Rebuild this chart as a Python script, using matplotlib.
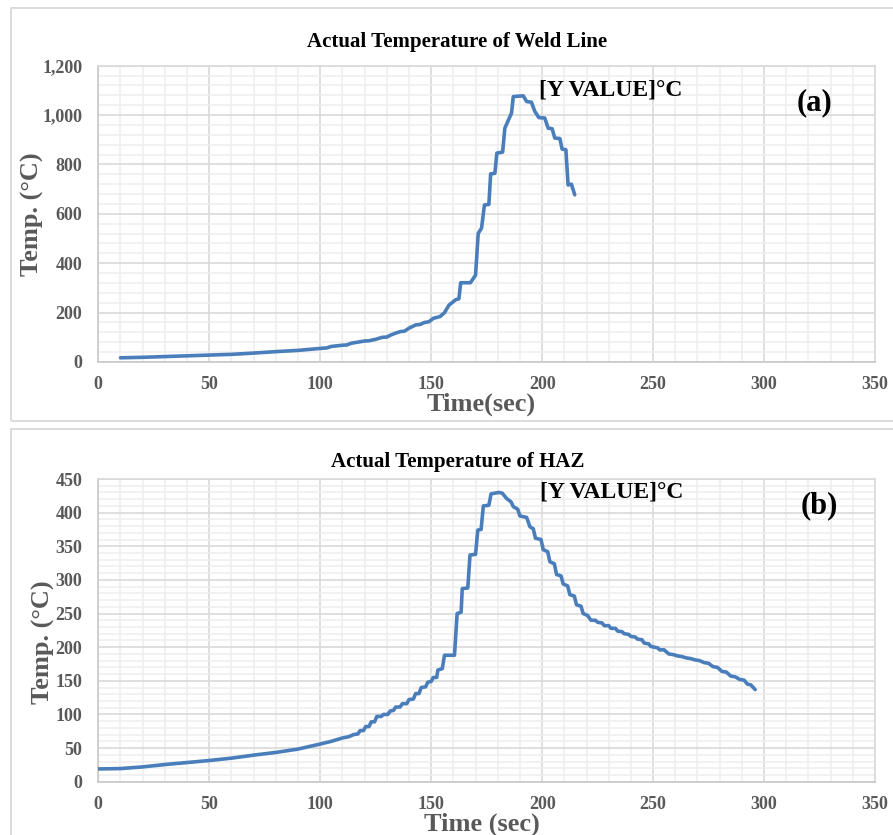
import matplotlib
matplotlib.use("Agg")
import matplotlib.pyplot as plt
from matplotlib.ticker import MultipleLocator, FuncFormatter
from matplotlib.patches import Rectangle

# ---- data ----
weld_time = [10, 20, 30, 40, 50, 60, 68, 80, 90, 100,
             103, 105, 110, 112, 114, 120, 122, 125, 128, 130,
             132, 134, 136, 138, 140, 143, 145, 147, 149, 151,
             154, 156, 158, 161, 162.5, 163.3, 167.7, 170, 171.2, 172.7,
             174, 176, 176.8, 178.7, 179.6, 182.2, 183.2, 186.2, 187, 191.5,
             193, 195.2, 196.7, 198.5, 201.2, 202.7, 204.5, 205.7, 208, 209,
             210.7, 211.7, 213.2, 214.7]
weld_temp = [17, 19, 22, 25, 28, 31, 35, 42, 47, 55,
             57, 63, 68, 69, 76, 85, 86, 92, 100, 101,
             110, 117, 123, 125, 137, 150, 152, 160, 163, 177,
             184, 200, 230, 252, 256, 321, 321, 352, 521, 542,
             636, 638, 762, 764, 846, 850, 947, 1008, 1075, 1078,
             1055, 1052, 1015, 990, 988, 947, 945, 907, 905, 862,
             860, 717, 720, 677]

haz_time = [0, 10, 20, 30, 40, 50, 60, 70, 80, 90,
            100, 105, 110, 113, 115, 117, 118, 119.5, 120.5, 122,
            123, 124.5, 125.5, 127.5, 128.5, 130.5, 131.5, 133, 134, 136,
            137, 139, 140, 142, 143, 144.5, 145.5, 147.5, 148.5, 150,
            151, 152.5, 153, 155, 156, 160.5, 161.7, 163.5, 164, 166.5,
            167.5, 170, 171, 172.5, 173.5, 176, 177, 180.5, 182, 184,
            186, 187, 189, 190, 193, 194.5, 196, 197, 199.5, 200.5,
            202.5, 203.5, 205.5, 206.5, 208.5, 209.5, 211.5, 212.5, 214.5, 215.5,
            217.5, 218.5, 220.5, 222, 224, 225, 227, 228, 230, 231,
            233, 234, 236, 237, 239, 240, 242, 243, 245, 246,
            248, 249, 252, 253, 255, 257, 259, 261, 263, 265,
            267, 269, 271, 273, 275, 277, 279, 281, 283, 285,
            287, 289, 291, 292.5, 294, 296]
haz_temp = [19, 19.5, 22, 25.5, 28.5, 31.5, 35, 39.5, 43.5, 48.5,
            56, 60, 65, 67, 70, 71, 76, 76, 82, 82,
            89, 89, 97, 97, 100, 100, 105, 106, 111, 111,
            116, 116, 122, 123, 131, 131, 140, 141, 148, 149,
            155, 155, 166, 168, 188, 188, 250, 252, 287, 288,
            337, 338, 374, 375, 410, 411, 428, 430, 429, 421,
            416, 409, 405, 395, 393, 379, 376, 362, 360, 345,
            342, 327, 324, 308, 306, 294, 291, 278, 276, 263,
            261, 250, 247, 240, 240, 237, 236, 232, 232, 228,
            228, 224, 223, 220, 219, 216, 215, 212, 211, 206,
            205, 201, 199, 196, 196, 190, 189, 187, 186, 184,
            183, 181, 180, 177, 176, 171, 170, 164, 163, 157,
            156, 152, 151, 145, 144, 137]

titles = ["Actual Temperature of Weld Line", "Actual Temperature of HAZ"]
xlabels = ["Time(sec)", "Time (sec)"]
ylabel = "Temp. (°C)"
annot = "[Y VALUE]°C"
panel_tags = ["(a)", "(b)"]

W, H = 893, 835
fig = plt.figure(figsize=(W / 100, H / 100), dpi=100)
FONT = "Liberation Serif"
LINE = "#4a7ebb"
GRAY = "#595959"

def fx(px):
    return px / W

def fy(py):
    return 1 - py / H

# outer chart frames
for (x0, y0, x1, y1) in [(10.5, 8, 900, 420.5), (10.5, 428.5, 900, 840)]:
    fig.add_artist(Rectangle((fx(x0), fy(y1)), fx(x1) - fx(x0), fy(y0) - fy(y1),
                             transform=fig.transFigure, fill=False,
                             edgecolor="#d9d9d9", lw=1.3, clip_on=False))

def make_panel(rect, t, v, ymax, ymaj, ymin, comma):
    ax = fig.add_axes(rect)
    ax.plot(t, v, color=LINE, lw=2.6, solid_joinstyle="round", solid_capstyle="round",
            zorder=3)
    ax.set_xlim(0, 350)
    ax.set_ylim(0, ymax)
    ax.xaxis.set_major_locator(MultipleLocator(50))
    ax.xaxis.set_minor_locator(MultipleLocator(10))
    ax.yaxis.set_major_locator(MultipleLocator(ymaj))
    ax.yaxis.set_minor_locator(MultipleLocator(ymin))
    ax.grid(which="minor", color="#eeeeee", lw=1.1, zorder=0)
    ax.grid(which="major", color="#d9d9d9", lw=1.2, zorder=1)
    ax.set_axisbelow(True)
    for s in ax.spines.values():
        s.set_color("#d9d9d9")
        s.set_linewidth(1.2)
    ax.spines["left"].set_color("#c8c8c8")
    ax.spines["bottom"].set_color("#c8c8c8")
    ax.tick_params(which="both", length=0)
    ax.tick_params(axis="x", pad=10)
    ax.tick_params(axis="y", pad=11.5)
    if comma:
        ax.yaxis.set_major_formatter(FuncFormatter(lambda val, p: f"{int(val):,}"))
    for lab in ax.get_xticklabels() + ax.get_yticklabels():
        lab.set_fontfamily(FONT)
        lab.set_fontweight("bold")
        lab.set_fontsize(13)
        lab.set_color(GRAY)
    return ax

ax1 = make_panel([fx(98.3), fy(362), fx(875) - fx(98.3), fy(65.7) - fy(362)],
                 weld_time, weld_temp, 1200, 200, 40, True)
ax2 = make_panel([fx(98.3), fy(781.7), fx(875) - fx(98.3), fy(479) - fy(781.7)],
                 haz_time, haz_temp, 450, 50, 10, False)

# titles
fig.text(fx(457), fy(42), titles[0], ha="center", va="center", family=FONT,
         weight="bold", fontsize=15, color="black")
fig.text(fx(458), fy(462), titles[1], ha="center", va="center", family=FONT,
         weight="bold", fontsize=15, color="black")

# axis labels
fig.text(fx(481), fy(404), xlabels[0], ha="center", va="center", family=FONT,
         weight="bold", fontsize=19, color=GRAY)
fig.text(fx(482), fy(824), xlabels[1], ha="center", va="center", family=FONT,
         weight="bold", fontsize=19, color=GRAY)
fig.text(fx(32), fy(214), ylabel, ha="center", va="center", rotation=90, family=FONT,
         weight="bold", fontsize=19, color=GRAY)
fig.text(fx(43), fy(642), ylabel, ha="center", va="center", rotation=90, family=FONT,
         weight="bold", fontsize=19, color=GRAY)

# annotations
fig.text(fx(539), fy(90), annot, ha="left", va="center", family=FONT,
         weight="bold", fontsize=17, color="black")
fig.text(fx(540), fy(492), annot, ha="left", va="center", family=FONT,
         weight="bold", fontsize=17, color="black")
fig.text(fx(814), fy(103), panel_tags[0], ha="center", va="center", family=FONT,
         weight="bold", fontsize=22, color="black")
fig.text(fx(819), fy(506), panel_tags[1], ha="center", va="center", family=FONT,
         weight="bold", fontsize=22, color="black")

fig.savefig("out.png", dpi=100, facecolor="white")
